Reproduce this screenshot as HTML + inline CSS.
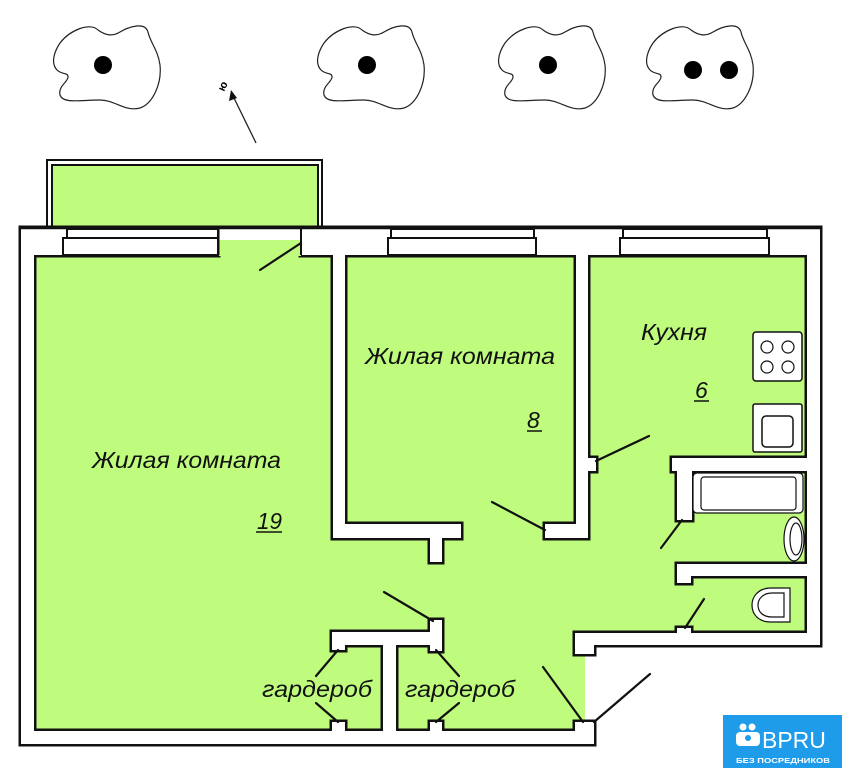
<!DOCTYPE html>
<html><head><meta charset="utf-8"><style>
html,body{margin:0;padding:0;background:#fff;}
svg{display:block;}
</style></head><body>
<svg width="842" height="768" viewBox="0 0 842 768" xmlns="http://www.w3.org/2000/svg">
<defs>
<path id="tree" d="M60,43 C52,55 52,65 57,70 C62,75 68,72 68,77 C68,82 58,86 60,95 C63,104 80,100 100,100 C115,100 125,112 140,108 C152,104 162,85 160,65 C158,50 150,42 148,32 C145,22 130,26 120,32 C112,37 105,35 98,30 C90,22 70,30 60,43 Z" fill="#fff" stroke="#222" stroke-width="1.2"/>
</defs>
<!-- trees -->
<use href="#tree"/><circle cx="103" cy="65" r="9"/>
<use href="#tree" transform="translate(264,0)"/><circle cx="367" cy="65" r="9"/>
<use href="#tree" transform="translate(445,0)"/><circle cx="548" cy="65" r="9"/>
<use href="#tree" transform="translate(593,0)"/><circle cx="693" cy="70" r="9"/><circle cx="729" cy="70" r="9"/>
<!-- compass -->
<line x1="256" y1="143" x2="234" y2="98" stroke="#222" stroke-width="1.3"/>
<polygon points="231,90 229,101 237,98" fill="#111"/>
<text x="0" y="0" font-family="Liberation Sans, DejaVu Sans, sans-serif" font-weight="bold" font-size="11" transform="translate(224,92) rotate(-65)">ю</text>

<!-- balcony -->
<rect x="47" y="160" width="275" height="69" fill="#fff" stroke="#111" stroke-width="2"/>
<rect x="52" y="165" width="266" height="64" fill="#bffc7d" stroke="#111" stroke-width="2"/>

<!-- green interior -->
<polygon points="30,236 812,236 812,640 585,640 585,736 30,736" fill="#bffc7d"/>

<!-- walls stroke layer -->
<g fill="#111" stroke="#111" stroke-width="5" stroke-linejoin="miter">
<rect x="21" y="228" width="197" height="27"/>
<rect x="218" y="228" width="83" height="12"/>
<rect x="301" y="228" width="519" height="27"/>
<rect x="21" y="228" width="13" height="516"/>
<rect x="21" y="731" width="573" height="13"/>
<rect x="575" y="722" width="19" height="22"/>
<rect x="807" y="228" width="13" height="417"/>
<rect x="575" y="633" width="245" height="12"/>
<rect x="575" y="633" width="19" height="21"/>
<rect x="333" y="255" width="12" height="283"/>
<rect x="333" y="524" width="128" height="14"/>
<rect x="430" y="538" width="12" height="24"/>
<rect x="545" y="524" width="43" height="14"/>
<rect x="576" y="255" width="12" height="283"/>
<rect x="588" y="458" width="8" height="13"/>
<rect x="672" y="458" width="148" height="13"/>
<rect x="677" y="458" width="15" height="62"/>
<rect x="677" y="564" width="143" height="12"/>
<rect x="677" y="564" width="14" height="19"/>
<rect x="677" y="628" width="14" height="6"/>
<rect x="332" y="632" width="110" height="13"/>
<rect x="430" y="620" width="12" height="31"/>
<rect x="332" y="632" width="13" height="18"/>
<rect x="383" y="632" width="13" height="100"/>
<rect x="332" y="722" width="13" height="10"/>
<rect x="430" y="722" width="12" height="10"/>
</g>
<!-- walls fill layer -->
<g fill="#fff">
<rect x="21" y="228" width="197" height="27"/>
<rect x="218" y="228" width="83" height="12"/>
<rect x="301" y="228" width="519" height="27"/>
<rect x="21" y="228" width="13" height="516"/>
<rect x="21" y="731" width="573" height="13"/>
<rect x="575" y="722" width="19" height="22"/>
<rect x="807" y="228" width="13" height="417"/>
<rect x="575" y="633" width="245" height="12"/>
<rect x="575" y="633" width="19" height="21"/>
<rect x="333" y="255" width="12" height="283"/>
<rect x="333" y="524" width="128" height="14"/>
<rect x="430" y="538" width="12" height="24"/>
<rect x="545" y="524" width="43" height="14"/>
<rect x="576" y="255" width="12" height="283"/>
<rect x="588" y="458" width="8" height="13"/>
<rect x="672" y="458" width="148" height="13"/>
<rect x="677" y="458" width="15" height="62"/>
<rect x="677" y="564" width="143" height="12"/>
<rect x="677" y="564" width="14" height="19"/>
<rect x="677" y="628" width="14" height="6"/>
<rect x="332" y="632" width="110" height="13"/>
<rect x="430" y="620" width="12" height="31"/>
<rect x="332" y="632" width="13" height="18"/>
<rect x="383" y="632" width="13" height="100"/>
<rect x="332" y="722" width="13" height="10"/>
<rect x="430" y="722" width="12" height="10"/>
</g>
<!-- balcony door gap -->
<rect x="219" y="240" width="82" height="16" fill="#bffc7d"/>
<line x1="218.5" y1="228" x2="218.5" y2="255" stroke="#111" stroke-width="2"/>
<line x1="301" y1="228" x2="301" y2="255" stroke="#111" stroke-width="2"/>
<!-- outer top line redraw -->
<line x1="20" y1="228" x2="821" y2="228" stroke="#111" stroke-width="2.5"/>

<!-- windows -->
<g fill="#fff" stroke="#111" stroke-width="2">
<rect x="67" y="229" width="151" height="9"/>
<rect x="63" y="238" width="155" height="17"/>
<rect x="391" y="229" width="143" height="9"/>
<rect x="388" y="238" width="148" height="17"/>
<rect x="623" y="229" width="144" height="9"/>
<rect x="620" y="238" width="149" height="17"/>
</g>

<!-- door leaves -->
<g stroke="#111" stroke-width="2.2" stroke-linecap="round">
<line x1="301" y1="243" x2="260" y2="270"/>
<line x1="545" y1="530" x2="492" y2="502"/>
<line x1="596" y1="461" x2="649" y2="436"/>
<line x1="682" y1="520" x2="661" y2="548"/>
<line x1="685" y1="628" x2="704" y2="599"/>
<line x1="433" y1="621" x2="384" y2="592"/>
<line x1="338" y1="650" x2="316" y2="676"/>
<line x1="338" y1="722" x2="316" y2="703"/>
<line x1="436" y1="650" x2="459" y2="676"/>
<line x1="436" y1="722" x2="459" y2="703"/>
<line x1="583" y1="722" x2="543" y2="667"/>
<line x1="594" y1="722" x2="650" y2="674"/>
</g>

<!-- kitchen fixtures -->
<rect x="753" y="332" width="49" height="49" rx="3" fill="#fff" stroke="#111" stroke-width="1.5"/>
<g fill="none" stroke="#111" stroke-width="1.2">
<circle cx="767" cy="347" r="6"/><circle cx="788" cy="347" r="6"/>
<circle cx="767" cy="367" r="6"/><circle cx="788" cy="367" r="6"/>
</g>
<rect x="753" y="404" width="49" height="48" rx="2" fill="#fff" stroke="#111" stroke-width="1.5"/>
<rect x="762" y="416" width="31" height="31" rx="4" fill="#fff" stroke="#111" stroke-width="1.5"/>
<!-- bath -->
<rect x="693" y="473" width="110" height="40" rx="4" fill="#fff" stroke="#111" stroke-width="1.2"/>
<rect x="701" y="477" width="95" height="33" rx="3" fill="#fff" stroke="#111" stroke-width="1.2"/>
<ellipse cx="794" cy="539" rx="10" ry="22" fill="#fff" stroke="#111" stroke-width="1.2"/>
<ellipse cx="796" cy="539" rx="6" ry="16" fill="none" stroke="#111" stroke-width="1.2"/>
<!-- toilet -->
<path d="M790,588 L771,588 C758,588 752,597 752,605 C752,614 758,622 771,622 L790,622 Z" fill="#fff" stroke="#111" stroke-width="1.2"/>
<path d="M784,593 L772,593 C763,593 758,599 758,605 C758,612 763,617 772,617 L784,617 Z" fill="none" stroke="#111" stroke-width="1.2"/>

<!-- labels -->
<g font-family="Liberation Sans, DejaVu Sans, sans-serif" font-style="italic" font-size="23" fill="#111">
<text x="92" y="468" textLength="189" lengthAdjust="spacingAndGlyphs">Жилая комната</text>
<text x="257" y="529" textLength="25" lengthAdjust="spacingAndGlyphs">19</text>
<text x="365" y="364" textLength="190" lengthAdjust="spacingAndGlyphs">Жилая комната</text>
<text x="527" y="428">8</text>
<text x="641" y="340" textLength="66" lengthAdjust="spacingAndGlyphs">Кухня</text>
<text x="695" y="398">6</text>
<text x="262" y="697" textLength="110" lengthAdjust="spacingAndGlyphs">гардероб</text>
<text x="405" y="697" textLength="110" lengthAdjust="spacingAndGlyphs">гардероб</text>
</g>
<g stroke="#111" stroke-width="1.5">
<line x1="256" y1="532" x2="282" y2="532"/>
<line x1="527" y1="431" x2="542" y2="431"/>
<line x1="694" y1="401" x2="709" y2="401"/>
</g>

<!-- logo -->
<rect x="723" y="715" width="119" height="53" fill="#1e9be9"/>
<g fill="#fff">
<circle cx="743" cy="727" r="3.5"/><circle cx="752" cy="727" r="3.5"/>
<rect x="736" y="732" width="24" height="14" rx="4"/>
</g>
<circle cx="748" cy="738" r="3" fill="#1e9be9"/>
<text x="762" y="748" font-family="Liberation Sans, sans-serif" font-size="23" fill="#fff">BPRU</text>
<text x="736" y="763" font-family="Liberation Sans, DejaVu Sans, sans-serif" font-weight="bold" font-size="7.5" fill="#fff" textLength="94" lengthAdjust="spacingAndGlyphs">БЕЗ ПОСРЕДНИКОВ</text>
</svg>
</body></html>
